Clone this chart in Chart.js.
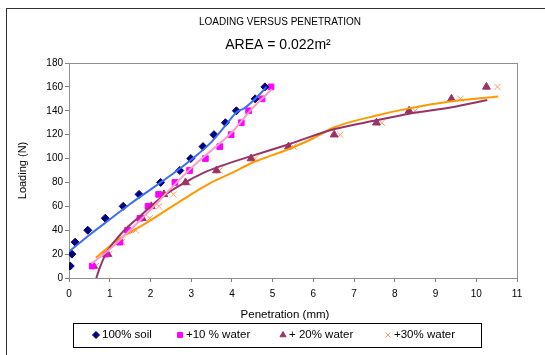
<!DOCTYPE html>
<html>
<head>
<meta charset="utf-8">
<script src="https://cdn.jsdelivr.net/npm/chart.js@4"></script>
<style>
html,body{margin:0;padding:0;background:#fff;overflow:hidden;}
#wrap{position:relative;width:545px;height:355px;}
#frame{position:absolute;left:6px;top:8px;width:539px;height:347px;border-left:1px solid #333;border-top:1px solid #333;}
canvas{position:absolute;left:0;top:0;}
</style>
</head>
<body>
<div id="wrap">
<div id="frame"></div>
<canvas id="myChart" width="545" height="355"></canvas>
</div>
<script>
// measured points (penetration mm, load N)
var soilX = [0.03,0.07,0.15,0.46,0.89,1.33,1.72,2.25,2.72,2.99,3.29,3.56,3.84,4.11,4.57,4.81];
var soilY = [10,20,30,40,50,60,70,80,90,100,110,120,130,140,150,160];
var w10X = [0.57,0.90,1.25,1.44,1.74,1.94,2.20,2.60,2.96,3.35,3.70,3.98,4.23,4.41,4.74,4.96];
var w10Y = [10,20,30,40,50,60,70,80,90,100,110,120,130,140,150,160];
var w20X = [0.60,0.95,1.23,1.45,1.80,2.02,2.33,2.86,3.62,4.47,5.39,6.51,7.55,8.35,9.39,10.25];
var w20Y = [10,20,30,40,50,60,70,80,90,100,110,120,130,140,150,160];
var w30X = [0.66,0.99,1.30,1.64,1.98,2.21,2.56,2.92,3.70,4.57,5.51,6.66,7.68,8.50,9.61,10.52];
var w30Y = [10,20,30,40,50,60,70,80,90,100,110,120,130,140,150,160];

// trendlines
var soilTrendX = [0,0.5,1,1.5,2,2.5,3,3.5,3.85,4.12,4.3,4.57,4.85];
var soilTrendY = [22,36,49,62,74,86,99,114,128,139,142,150,160];
var w10TrendX = [0.55,1,1.5,2,2.5,3,3.5,4,4.5,4.98];
var w10TrendY = [12,24,40,57,75,92,107,122,142,158];
var w20TrendX = [0.67,0.75,0.9,1.25,1.75,2.25,2.8,3.3,3.75,4.47,5.4,6.5,7.55,8.35,9.4,10.27];
var w20TrendY = [0,8,20,36,52,67,79,88,94,102,112,124.5,132,137.5,143,149];
var w30TrendX = [0.66,1.2,1.8,2.4,3,3.5,4,4.5,5.4,6,6.5,7.55,8.35,9.4,10.54];
var w30TrendY = [17,32,44,57,70,80,88,96.5,108,117,126,136,142,148,152];

var labels = ["100% soil", "+10 % water", "+ 20% water", "+30% water"];

function pts(xs, ys) {
  return xs.map(function(x, i) { return {x: x, y: ys[i]}; });
}

var FONT = "'Liberation Sans', Arial, sans-serif";
Chart.defaults.font.family = FONT;
Chart.defaults.color = '#000';

// legend slots in the boxed key under the chart
var keyX = [96, 180, 283, 388];

var framePlugin = {
  id: 'frame',
  beforeDatasetsDraw: function(chart) {
    var a = chart.chartArea, c = chart.ctx;
    c.save();
    c.strokeStyle = '#909090';
    c.lineWidth = 1;
    c.strokeRect(Math.round(a.left) + 0.5, Math.round(a.top) + 0.5, Math.round(a.right - a.left), Math.round(a.bottom - a.top));
    c.restore();
  },
  afterDraw: function(chart) {
    var c = chart.ctx;
    c.save();
    c.fillStyle = '#000';
    c.textAlign = 'center';
    c.textBaseline = 'middle';
    c.font = '10px ' + FONT;
    c.fillText('LOADING VERSUS PENETRATION', 280, 22);
    c.font = '14px ' + FONT;
    c.fillText('AREA = 0.022m\u00B2', 278, 45);
    c.font = '11.5px ' + FONT;
    c.fillText('Penetration (mm)', 285, 315);

    // boxed legend
    c.strokeStyle = '#000';
    c.lineWidth = 1;
    c.strokeRect(73.5, 323.5, 408, 24);
    c.textAlign = 'left';
    for (var i = 0; i < 4; i++) {
      var ds = chart.data.datasets[i];
      c.fillStyle = ds.backgroundColor;
      c.strokeStyle = ds.borderColor;
      Chart.helpers.drawPoint(c, { pointStyle: ds.pointStyle, radius: 3.5, rotation: 0, borderWidth: 1 }, keyX[i], 335);
      c.fillStyle = '#000';
      c.fillText(labels[i], keyX[i] + 6, 335);
    }
    c.restore();
  }
};

var ctx = document.getElementById("myChart");
var myChart = new Chart(ctx, {
  type: 'scatter',
  data: {
    datasets: [{
      label: labels[0], data: pts(soilX, soilY), order: 1,
      pointStyle: 'rectRot', pointRadius: 4, backgroundColor: '#000080', borderColor: '#000080', borderWidth: 1
    }, {
      label: labels[1], data: pts(w10X, w10Y), order: 1,
      pointStyle: 'rect', pointRadius: 4, backgroundColor: '#FF00FF', borderColor: '#FF00FF', borderWidth: 1
    }, {
      label: labels[2], data: pts(w20X, w20Y), order: 1,
      pointStyle: 'triangle', pointRadius: 4.5, backgroundColor: '#993366', borderColor: '#993366', borderWidth: 1
    }, {
      label: labels[3], data: pts(w30X, w30Y), order: 1,
      pointStyle: 'crossRot', pointRadius: 4.5, backgroundColor: '#FF9966', borderColor: '#FF9966', borderWidth: 1
    }, {
      label: 'trend1', data: pts(soilTrendX, soilTrendY), order: 0, showLine: true,
      pointRadius: 0, borderColor: '#3D6EF0', borderWidth: 2, cubicInterpolationMode: 'monotone'
    }, {
      label: 'trend2', data: pts(w10TrendX, w10TrendY), order: 0, showLine: true,
      pointRadius: 0, borderColor: '#FF99CC', borderWidth: 2, cubicInterpolationMode: 'monotone'
    }, {
      label: 'trend3', data: pts(w20TrendX, w20TrendY), order: 0, showLine: true,
      pointRadius: 0, borderColor: '#993366', borderWidth: 2, cubicInterpolationMode: 'monotone'
    }, {
      label: 'trend4', data: pts(w30TrendX, w30TrendY), order: 0, showLine: true,
      pointRadius: 0, borderColor: '#FF9900', borderWidth: 2, cubicInterpolationMode: 'monotone'
    }]
  },
  options: {
    responsive: false,
    animation: false,
    layout: { padding: { left: 6, right: 28, top: 63, bottom: 33 } },
    plugins: {
      tooltip: { enabled: false },
      legend: { display: false },
      title: { display: false }
    },
    scales: {
      x: {
        type: 'linear', min: 0, max: 11,
        ticks: { stepSize: 1, font: { size: 10 }, padding: 6 },
        grid: { drawOnChartArea: false, tickLength: 4, color: '#808080' },
        border: { color: '#808080' },
        afterFit: function(s) { s.height = 44; }
      },
      y: {
        min: 0, max: 180,
        ticks: { stepSize: 20, font: { size: 10 }, padding: 2 },
        grid: { drawOnChartArea: false, tickLength: 4, color: '#808080' },
        border: { color: '#808080' },
        title: { display: true, text: 'Loading (N)', font: { size: 11 }, padding: { top: 10, bottom: 0 } },
        afterFit: function(s) { s.width = 63; }
      }
    }
  },
  plugins: [framePlugin]
});
</script>
</body>
</html>
